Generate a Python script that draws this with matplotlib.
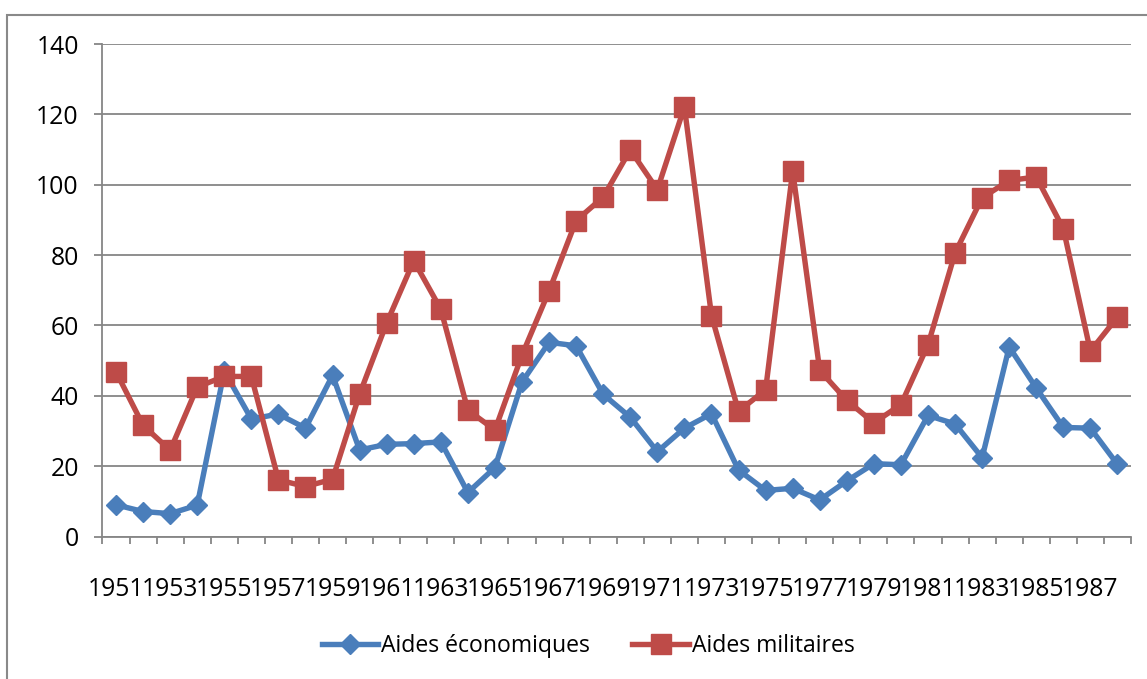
import numpy as np
import matplotlib
matplotlib.use('Agg')
import matplotlib.pyplot as plt
from matplotlib.patches import Rectangle

plt.rcParams['font.family'] = ['Open Sans', 'DejaVu Sans']
plt.rcParams['font.size'] = 17.8

years = list(range(1951, 1989))

aides_eco = [9.0, 7.1, 6.5, 8.9, 47.0, 33.4, 34.8, 30.8, 45.8, 24.6,
             26.2, 26.4, 26.9, 12.5, 19.6, 43.9, 55.2, 54.2, 40.4, 33.9,
             24.1, 30.8, 34.9, 18.9, 13.1, 13.7, 10.4, 15.8, 20.7, 20.4,
             34.4, 32.0, 22.4, 53.9, 42.2, 31.0, 30.8, 20.5]

aides_mil = [46.8, 31.6, 24.5, 42.5, 45.5, 45.5, 16.1, 14.2, 16.3, 40.5,
             60.7, 78.4, 64.6, 35.9, 30.3, 51.6, 69.8, 89.8, 96.5, 109.9,
             98.6, 122.1, 62.8, 35.6, 41.7, 103.9, 47.2, 38.7, 32.3, 37.5,
             54.5, 80.6, 96.3, 101.2, 102.2, 87.5, 52.7, 62.4]

blue = '#4A7EBB'
red = '#BE4B48'
gray = '#868686'

W, H = 1147, 679
fig = plt.figure(figsize=(W / 100, H / 100), dpi=100)

left, right, top, bottom = 102.5, 1131, 44, 536.5
ax = fig.add_axes([left / W, 1 - bottom / H, (right - left) / W, (bottom - top) / H])

x = np.arange(len(years))
ax.plot(x, aides_eco, color=blue, lw=3.9, marker='D', ms=10.5,
        mec=blue, label='Aides économiques')
ax.plot(x, aides_mil, color=red, lw=3.9, marker='s', ms=14.5,
        mec=red, label='Aides militaires')

ax.set_xlim(-0.5, len(years) - 0.5)
ax.set_ylim(0, 140)
ax.set_yticks(range(0, 141, 20))
ax.yaxis.grid(True, color=gray, lw=1.3)
ax.set_axisbelow(True)

for s in ['top', 'right']:
    ax.spines[s].set_visible(False)
for s in ['left', 'bottom']:
    ax.spines[s].set_color(gray)
    ax.spines[s].set_linewidth(1.3)

ax.set_xticks(x[::2])
ax.set_xticklabels([str(y) for y in years[::2]])
ax.set_xticks(np.arange(-0.5, len(years)), minor=True)
ax.tick_params(axis='x', which='major', length=0, pad=29)
ax.tick_params(axis='x', which='minor', length=5, color=gray, width=1.3)
ax.tick_params(axis='y', length=6, color=gray, width=1.3, pad=11)

fig.legend(loc='center', bbox_to_anchor=(588 / W, 1 - 646 / H), ncol=2,
           frameon=False, fontsize=16.6, handlelength=2.45,
           handletextpad=0.12, columnspacing=1.85)

# outer chart border
fig.patches.append(Rectangle((7.5 / W, -0.1), 1.2, (1 - 14.5 / H) + 0.1,
                             transform=fig.transFigure, fill=False,
                             ec='#898989', lw=1.5))

fig.savefig('out.png', dpi=100)
